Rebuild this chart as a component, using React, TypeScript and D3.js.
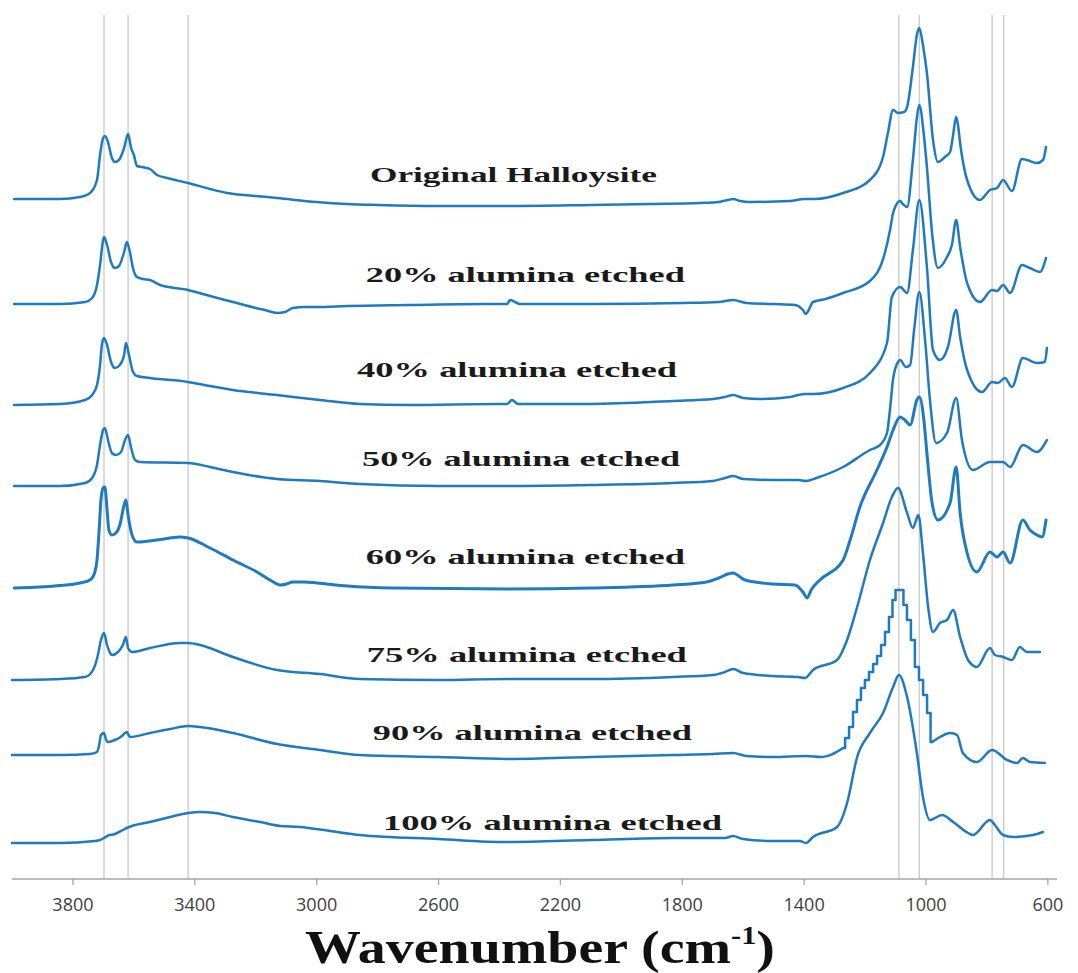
import React from "react";
import * as d3 from "d3";

// ---------- DATA (wavenumber cm-1, stacked absorbance in a.u.) ----------
const wavenumberTicks = [3800, 3400, 3000, 2600, 2200, 1800, 1400, 1000, 600];
const markerLines = [3698, 3619, 3422, 1089, 1022, 783, 745];

const originalHalloysite: [number, number][] = [
  [3993, 680], [3842, 680], [3777, 682], [3744, 686], [3721, 699], [3711, 724], [3701, 741], [3695, 743],
  [3685, 737], [3672, 721], [3662, 717], [3649, 719], [3632, 731], [3619, 745], [3609, 731], [3600, 724],
  [3590, 713], [3573, 712], [3547, 710], [3524, 704], [3491, 701], [3422, 696], [3350, 690], [3294, 686],
  [3200, 683], [3130, 681], [3000, 677], [2900, 675], [2800, 674], [2600, 673], [2375, 673], [2100, 674],
  [1900, 675], [1742, 676], [1680, 677], [1650, 679], [1633, 680], [1610, 678], [1580, 677], [1446, 678],
  [1400, 680], [1364, 680], [1272, 686], [1184, 699], [1141, 722], [1125, 746], [1108, 769], [1092, 766],
  [1072, 767], [1062, 772], [1043, 812], [1030, 844], [1022, 851], [1010, 834], [997, 806], [977, 739],
  [961, 717], [938, 722], [921, 727], [911, 744], [901, 762], [895, 754], [888, 736], [865, 699],
  [823, 679], [790, 689], [767, 691], [747, 699], [718, 688], [685, 720], [669, 719], [636, 716],
  [616, 719], [606, 732],
];

const etched20: [number, number][] = [
  [3993, 575], [3842, 575], [3760, 577], [3737, 581], [3721, 594], [3711, 614], [3701, 639], [3698, 642],
  [3688, 634], [3675, 617], [3662, 611], [3649, 613], [3632, 627], [3623, 637], [3613, 627], [3603, 611],
  [3590, 602], [3570, 600], [3547, 599], [3514, 594], [3422, 589], [3350, 583], [3275, 577], [3200, 571],
  [3170, 569], [3130, 566], [3104, 567], [3078, 571], [3040, 572], [2999, 572], [2900, 573], [2700, 574],
  [2450, 575], [2375, 575], [2365, 579], [2349, 577], [2333, 575], [2100, 575], [1800, 576], [1680, 577],
  [1633, 579], [1590, 576], [1500, 575], [1430, 574], [1404, 569], [1394, 565], [1385, 569], [1371, 577],
  [1330, 580], [1272, 586], [1184, 598], [1135, 626], [1118, 649], [1108, 666], [1098, 674], [1085, 678],
  [1076, 675], [1062, 672], [1043, 719], [1030, 761], [1022, 774], [1007, 744], [997, 712], [980, 646],
  [961, 611], [931, 622], [915, 634], [901, 659], [888, 632], [865, 596], [823, 577], [783, 589],
  [767, 588], [747, 594], [724, 586], [685, 614], [659, 611], [626, 607], [606, 621],
];

const etched40: [number, number][] = [
  [3993, 474], [3842, 475], [3760, 479], [3737, 484], [3721, 494], [3711, 514], [3705, 534], [3698, 541],
  [3688, 534], [3675, 517], [3662, 511], [3646, 514], [3632, 524], [3626, 536], [3616, 524], [3603, 507],
  [3590, 503], [3547, 501], [3422, 497], [3350, 493], [3275, 489], [3130, 484], [2989, 479], [2858, 475],
  [2700, 474], [2400, 475], [2375, 475], [2359, 479], [2339, 475], [2100, 475], [1830, 478], [1700, 480],
  [1660, 482], [1633, 484], [1600, 481], [1545, 480], [1446, 482], [1400, 485], [1370, 485], [1272, 491],
  [1184, 506], [1128, 536], [1112, 582], [1085, 592], [1062, 586], [1043, 629], [1022, 679], [997, 612],
  [977, 529], [954, 519], [928, 532], [901, 569], [888, 542], [865, 509], [816, 487], [783, 497],
  [764, 496], [741, 501], [718, 492], [682, 521], [636, 516], [610, 517], [603, 531],
];

const etched50: [number, number][] = [
  [3993, 393], [3842, 393], [3760, 396], [3737, 401], [3721, 414], [3711, 434], [3701, 449], [3695, 451],
  [3685, 439], [3672, 426], [3659, 424], [3642, 427], [3629, 439], [3619, 444], [3609, 431], [3596, 419],
  [3580, 417], [3422, 416], [3350, 412], [3275, 407], [3130, 400], [2989, 398], [2858, 395], [2600, 393],
  [2375, 393], [2100, 394], [1830, 396], [1700, 398], [1660, 401], [1633, 403], [1600, 400], [1502, 399],
  [1420, 399], [1394, 398], [1360, 401], [1272, 412], [1184, 429], [1151, 434], [1128, 446], [1118, 470],
  [1108, 500], [1092, 517], [1085, 519], [1066, 512], [1052, 514], [1039, 549], [1022, 587], [1003, 539],
  [987, 479], [967, 436], [931, 446], [901, 481], [882, 439], [846, 409], [790, 417], [747, 417],
  [724, 412], [682, 434], [636, 427], [603, 439],
];

const etched60: [number, number][] = [
  [3993, 291], [3908, 292], [3859, 293], [3777, 296], [3744, 299], [3728, 307], [3721, 319], [3714, 349],
  [3708, 379], [3701, 391], [3695, 392], [3688, 369], [3682, 349], [3672, 344], [3659, 346], [3646, 354],
  [3632, 374], [3626, 379], [3619, 364], [3606, 344], [3590, 337], [3524, 339], [3449, 342], [3422, 341],
  [3350, 331], [3275, 319], [3196, 307], [3153, 299], [3120, 294], [3100, 295], [3078, 297], [3040, 297],
  [2999, 296], [2900, 293], [2750, 291], [2375, 290], [2100, 291], [1830, 294], [1720, 297], [1680, 301],
  [1650, 305], [1633, 306], [1610, 302], [1594, 299], [1502, 295], [1430, 294], [1404, 287], [1390, 281],
  [1377, 289], [1348, 299], [1272, 319], [1249, 339], [1217, 372], [1161, 409], [1128, 432], [1108, 449],
  [1085, 462], [1069, 459], [1052, 454], [1030, 479], [1022, 482], [1007, 459], [997, 426], [980, 376],
  [961, 359], [921, 376], [901, 412], [888, 366], [865, 326], [833, 307], [790, 327], [767, 322],
  [747, 327], [724, 316], [682, 359], [659, 349], [636, 344], [619, 342], [606, 359],
];

const etched75: [number, number][] = [
  [4000, 199], [3842, 200], [3760, 202], [3734, 209], [3718, 224], [3708, 239], [3698, 246], [3688, 234],
  [3678, 226], [3672, 224], [3652, 227], [3636, 234], [3626, 242], [3619, 231], [3606, 227], [3547, 231],
  [3449, 236], [3422, 236], [3383, 234], [3275, 222], [3130, 209], [2989, 205], [2858, 200], [2600, 199],
  [2375, 200], [2100, 200], [1830, 202], [1700, 204], [1660, 207], [1633, 210], [1600, 206], [1502, 203],
  [1420, 202], [1397, 201], [1371, 209], [1292, 219], [1259, 239], [1226, 272], [1184, 319], [1141, 356],
  [1112, 382], [1092, 391], [1062, 366], [1043, 351], [1025, 364], [1010, 326], [993, 272], [977, 247],
  [954, 256], [931, 259], [911, 269], [888, 242], [862, 219], [833, 212], [790, 231], [774, 224],
  [747, 222], [718, 219], [692, 232], [669, 227], [626, 227],
];

// 90 % spectrum: smooth parts and the stair-stepped Si-O band
const etched90: [number, number][] = [
  [4000, 124], [3842, 124], [3744, 125], [3721, 127], [3714, 134], [3708, 144], [3698, 146], [3691, 139],
  [3685, 137], [3662, 139], [3639, 143], [3629, 146], [3623, 147], [3613, 142], [3547, 146], [3481, 150],
  [3422, 153], [3383, 152], [3275, 146], [3130, 135], [2989, 129], [2858, 124], [2600, 122], [2375, 120],
  [2100, 122], [1830, 124], [1700, 125], [1633, 126], [1590, 123], [1502, 122], [1394, 123], [1341, 122],
  [1272, 131],
];
const etched90Band: [number, number][] = [
  [1272, 131], [1259, 141], [1246, 152], [1233, 167], [1220, 179], [1207, 191], [1194, 199], [1180, 207],
  [1167, 215], [1154, 223], [1141, 234], [1128, 247], [1115, 262], [1105, 279], [1095, 289], [1079, 289],
  [1069, 274], [1056, 259], [1043, 239], [1030, 212], [1016, 199], [1003, 184], [990, 166], [980, 137],
];
const etched90Tail: [number, number][] = [
  [980, 137], [954, 142], [921, 146], [898, 144], [879, 126], [833, 117], [783, 129], [734, 119],
  [701, 116], [682, 121], [659, 117], [610, 116],
];

const etched100: [number, number][] = [
  [4000, 36], [3842, 36], [3728, 38], [3711, 39], [3698, 41], [3688, 43], [3662, 45], [3636, 49],
  [3623, 51], [3606, 53], [3547, 57], [3481, 62], [3422, 66], [3383, 67], [3334, 66], [3275, 62],
  [3186, 57], [3120, 53], [3055, 52], [2956, 48], [2858, 44], [2600, 40], [2375, 37], [2100, 39],
  [1830, 41], [1700, 41], [1660, 41], [1633, 43], [1600, 40], [1502, 38], [1414, 38], [1394, 36],
  [1371, 42], [1292, 52], [1259, 76], [1226, 122], [1184, 146], [1141, 166], [1108, 192], [1089, 204],
  [1062, 182], [1030, 126], [1010, 82], [987, 59], [947, 64], [911, 57], [862, 46], [846, 44],
  [790, 59], [774, 54], [747, 44], [714, 42], [649, 44], [616, 47],
];

const seriesNames = [
  "Original Halloysite",
  "20% alumina etched",
  "40% alumina etched",
  "50% alumina etched",
  "60% alumina etched",
  "75% alumina etched",
  "90% alumina etched",
  "100% alumina etched",
];
// label anchor: [wavenumber of label centre, a.u. of label baseline]
const labelAnchors: [number, number][] = [
  [2354, 697], [2315, 597], [2342, 502], [2329, 413], [2315, 315], [2310, 217], [2292, 139], [2226, 49],
];

// ---------- STYLE ----------
const W = 1078;
const H = 973;
const BLUE = "#1f7ac0";
const labelWidths = [287, 319, 320, 318, 319, 320, 319, 339];

export default function App() {
  const x = d3.scaleLinear().domain([4000, 570]).range([12, 1057]);
  const y = d3.scaleLinear().domain([0, 860]).range([879, 19]);
  const smooth = d3
    .line<[number, number]>()
    .x((d) => x(d[0]))
    .y((d) => y(d[1]))
    .curve(d3.curveMonotoneX);
  const stepped = d3
    .line<[number, number]>()
    .x((d) => x(d[0]))
    .y((d) => y(d[1]))
    .curve(d3.curveStep);
  const axisY = y(0);

  const paths: { key: string; d: string; w: number }[] = [
    { key: "orig", d: smooth(originalHalloysite) || "", w: 2.5 },
    { key: "e20", d: smooth(etched20) || "", w: 2.5 },
    { key: "e40", d: smooth(etched40) || "", w: 2.5 },
    { key: "e50", d: smooth(etched50) || "", w: 2.5 },
    { key: "e60", d: smooth(etched60) || "", w: 3 },
    { key: "e75", d: smooth(etched75) || "", w: 2.5 },
    { key: "e90a", d: smooth(etched90) || "", w: 2.5 },
    { key: "e90b", d: stepped(etched90Band) || "", w: 2.5 },
    { key: "e90c", d: smooth(etched90Tail) || "", w: 2.5 },
    { key: "e100", d: smooth(etched100) || "", w: 2.5 },
  ];

  return (
    <svg
      width={W}
      height={H}
      viewBox={`0 0 ${W} ${H}`}
      style={{ position: "absolute", left: 0, top: 0, background: "#fff", display: "block" }}
    >
      <rect x={0} y={0} width={W} height={H} fill="#fff" />
      {markerLines.map((m) => (
        <line key={m} x1={x(m)} x2={x(m)} y1={15} y2={axisY} stroke="#c9c9c9" strokeWidth={1.3} />
      ))}
      <line x1={x(4000)} x2={x(570)} y1={axisY} y2={axisY} stroke="#a6a6a6" strokeWidth={1.5} />
      {wavenumberTicks.map((t) => (
        <g key={t}>
          <line x1={x(t)} x2={x(t)} y1={axisY} y2={axisY + 6} stroke="#a6a6a6" strokeWidth={1.3} />
          <text
            x={x(t)}
            y={axisY + 32}
            textAnchor="middle"
            fontFamily="'Open Sans', 'Noto Sans', sans-serif"
            fontSize={18}
            fill="#404040"
          >
            {t}
          </text>
        </g>
      ))}
      {paths.map((p) => (
        <path
          key={p.key}
          d={p.d}
          fill="none"
          stroke={BLUE}
          strokeWidth={p.w}
          strokeLinejoin="round"
          strokeLinecap="round"
        />
      ))}
      {seriesNames.map((n, i) => (
        <text
          key={n}
          x={x(labelAnchors[i][0])}
          y={y(labelAnchors[i][1])}
          textAnchor="middle"
          fontFamily="'Liberation Serif', 'DejaVu Serif', serif"
          fontWeight="bold"
          fontSize={21}
          fill="#1a1a1a"
          textLength={labelWidths[i]}
          lengthAdjust="spacingAndGlyphs"
        >
          {n}
        </text>
      ))}
      <text
        x={540}
        y={963}
        textAnchor="middle"
        fontFamily="'Liberation Serif', 'DejaVu Serif', serif"
        fontWeight="bold"
        fontSize={46}
        fill="#111"
        textLength={470}
        lengthAdjust="spacingAndGlyphs"
      >
        Wavenumber (cm
        <tspan fontSize={25} dy={-19}>-1</tspan>
        <tspan dy={19}>)</tspan>
      </text>
    </svg>
  );
}
